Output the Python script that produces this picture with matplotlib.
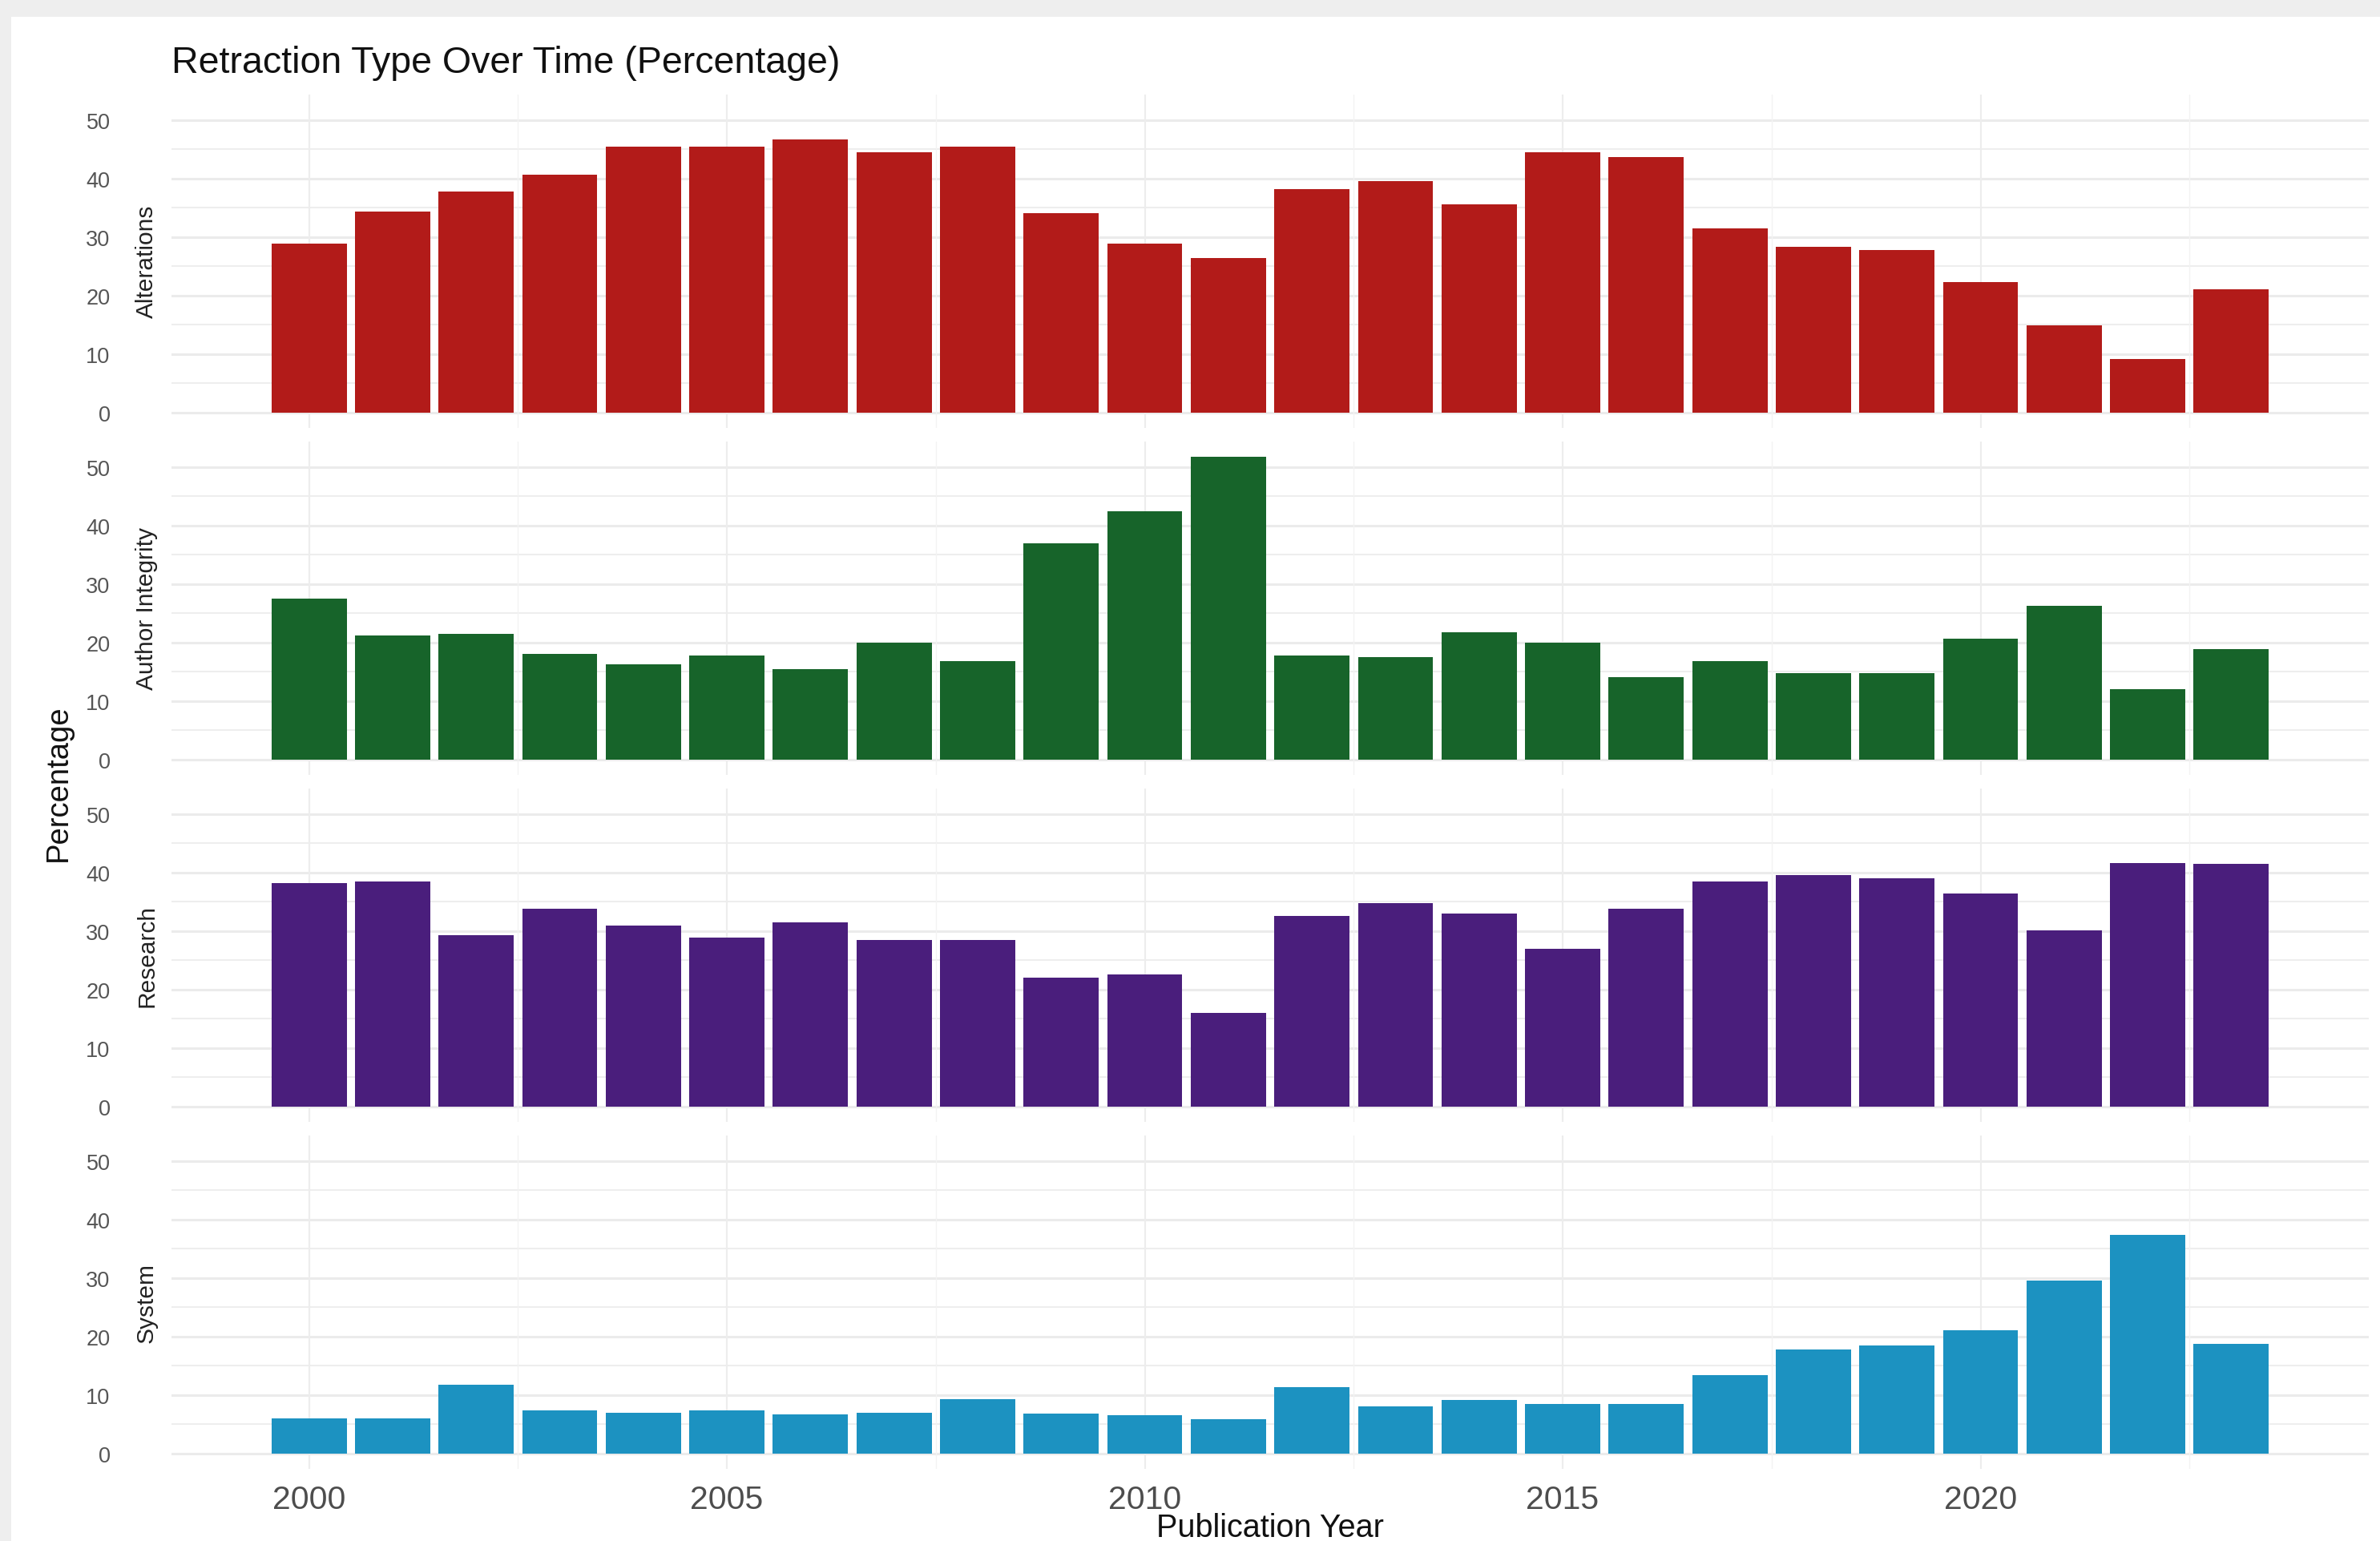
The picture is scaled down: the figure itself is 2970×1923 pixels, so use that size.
import matplotlib
matplotlib.use("Agg")
import matplotlib.pyplot as plt
from matplotlib.patches import Rectangle
import numpy as np

plt.rcParams['font.family'] = ['Liberation Sans', 'DejaVu Sans']

# ---------------- data ----------------
years = list(range(2000, 2024))
categories = ["Alterations", "Author Integrity", "Research", "System"]

alterations = [28.9, 34.3, 37.8, 40.7, 45.5, 45.5, 46.7, 44.5, 45.5, 34.0,
               28.8, 26.4, 38.2, 39.5, 35.6, 44.5, 43.6, 31.5, 28.3, 27.8,
               22.3, 14.9, 9.1, 21.1]
author_integrity = [27.5, 21.2, 21.5, 18.1, 16.2, 17.8, 15.4, 19.9, 16.8, 36.9,
                    42.4, 51.8, 17.8, 17.5, 21.7, 19.9, 14.1, 16.8, 14.7, 14.7,
                    20.7, 26.2, 12.0, 18.8]
research = [38.2, 38.5, 29.3, 33.8, 30.9, 28.8, 31.4, 28.5, 28.5, 22.0,
            22.5, 16.0, 32.5, 34.8, 33.0, 27.0, 33.8, 38.5, 39.5, 39.0,
            36.4, 30.1, 41.6, 41.4]
system = [6.0, 6.0, 11.7, 7.3, 7.0, 7.3, 6.7, 7.0, 9.3, 6.8,
          6.5, 5.8, 11.3, 8.1, 9.2, 8.5, 8.5, 13.4, 17.7, 18.4,
          21.0, 29.5, 37.3, 18.7]
series = [alterations, author_integrity, research, system]
colors = ["#B21B19", "#17642A", "#4A1E7C", "#1C92C1"]

y_ticks = [0, 10, 20, 30, 40, 50]
y_minor = [5, 15, 25, 35, 45]
x_ticks = [2000, 2005, 2010, 2015, 2020]
x_minor = [2002.5, 2007.5, 2012.5, 2017.5, 2022.5]

title = "Retraction Type Over Time (Percentage)"
xlabel = "Publication Year"
ylabel = "Percentage"

# ---------------- figure ----------------
W, H = 2970, 1924
DPI = 100
fig = plt.figure(figsize=(W / DPI, H / DPI), dpi=DPI)
fig.patch.set_facecolor("#EEEEEE")
fig.patches.append(Rectangle((14 / W, 0), 1 - 14 / W, 1 - 22 / H,
                             transform=fig.transFigure, facecolor="white",
                             edgecolor="none", zorder=-10))

left_px, right_px = 214, 2956
top0_px = 118.6
panel_h_px = 416.0
step_px = 433.0

bar_w = 0.9
xmin = years[0] - bar_w / 2
xmax = years[-1] + bar_w / 2
xr = xmax - xmin
vmax = max(max(s) for s in series)

axes = []
for i, (cat, vals, col) in enumerate(zip(categories, series, colors)):
    top = top0_px + i * step_px
    ax = fig.add_axes([left_px / W, 1 - (top + panel_h_px) / H,
                       (right_px - left_px) / W, panel_h_px / H])
    ax.set_facecolor("none")
    ax.bar(years, vals, width=bar_w, color=col, edgecolor="none", zorder=3)
    ax.set_xlim(xmin - 0.05 * xr, xmax + 0.05 * xr)
    ax.set_ylim(-0.05 * vmax, 1.05 * vmax)
    for yv in y_ticks:
        ax.axhline(yv, color="#EBEBEB", lw=2.2, zorder=1)
    for yv in y_minor:
        ax.axhline(yv, color="#EEEEEE", lw=1.5, zorder=1)
    for xv in x_ticks:
        ax.axvline(xv, color="#EDEDED", lw=1.6, zorder=1)
    for xv in x_minor:
        ax.axvline(xv, color="#F3F3F3", lw=1.0, zorder=1)
    ax.set_yticks(y_ticks)
    ax.set_yticklabels([str(v) for v in y_ticks])
    ax.set_xticks(x_ticks)
    if i == len(categories) - 1:
        ax.set_xticklabels([str(v) for v in x_ticks])
    else:
        ax.set_xticklabels([])
    ax.tick_params(axis="y", length=0, pad=55, labelsize=19.5, labelcolor="#555555")
    ax.tick_params(axis="x", length=0, pad=14, labelsize=29.5, labelcolor="#4D4D4D")
    for sp in ax.spines.values():
        sp.set_visible(False)
    # strip label (left, between tick labels and panel)
    cy = 1 - (top + panel_h_px / 2) / H
    fig.text(183 / W, cy, cat, rotation=90, ha="center", va="center",
             fontsize=21.5, color="#222222")
    axes.append(ax)

# titles / labels
fig.text(left_px / W, 1 - 91 / H, title, ha="left", va="baseline",
         fontsize=33.5, color="#111111")
fig.text(73 / W, 1 - 977 / H, ylabel, rotation=90, ha="center", va="center",
         fontsize=27.5, color="#111111")
fig.text((left_px + right_px) / 2 / W, 1 - 1918 / H, xlabel, ha="center",
         va="baseline", fontsize=28.5, color="#111111")

fig.savefig("out.png", dpi=DPI, facecolor=fig.get_facecolor())
